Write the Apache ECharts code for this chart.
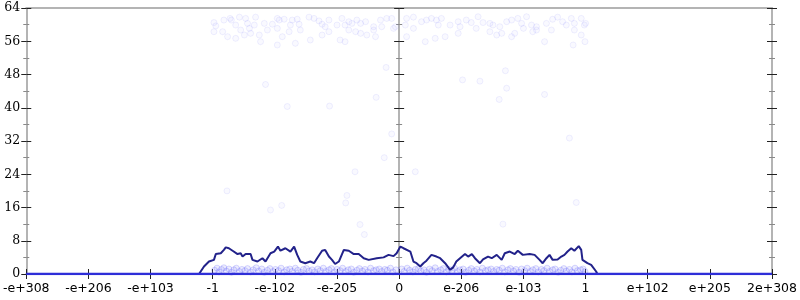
<!DOCTYPE html>
<html><head><meta charset="utf-8">
<script src="https://cdn.jsdelivr.net/npm/echarts@6/dist/echarts.min.js"></script>
<style>html,body{margin:0;padding:0;background:#fff}#c{width:800px;height:300px}</style>
</head><body><div id="c"></div>
<script>
var xLabels = ['-e+308','-e+206','-e+103','-1','-e-102','-e-205','0','e-206','e-103','1','e+102','e+205','2e+308'];
var yTicks = [0, 64, 8];

var topBand = [
[-2.98,60.5],[-2.95,59.7],[-2.82,61.1],[-2.72,61.5],[-2.70,61.1],[-2.63,59.9],[-2.57,61.8],[-2.47,61.5],[-2.44,60.3],[-2.33,59.9],
[-2.31,61.8],[-2.17,60.3],[-2.04,60.1],[-1.96,61.5],[-1.93,61.1],[-1.85,61.3],[-1.75,59.9],[-1.72,61.1],[-1.64,61.3],[-1.61,60.1],
[-1.45,61.8],[-1.37,61.5],[-1.29,60.9],[-1.24,60.1],[-1.19,59.5],[-1.13,61.1],[-1.00,59.9],[-0.92,61.5],[-0.87,59.9],[-0.81,60.7],
[-0.76,60.3],[-0.68,61.1],[-0.62,60.3],[-0.54,60.7],[-0.41,59.5],[-0.30,61.1],[-0.20,61.5],[-0.12,61.5],[-0.06,59.5],
[-2.98,58.3],[-2.84,58.3],[-2.76,57.1],[-2.63,56.7],[-2.55,58.7],[-2.49,57.5],[-2.39,57.9],[-2.41,59.1],[-2.25,57.5],[-2.23,55.9],
[-2.12,58.7],[-1.96,59.1],[-1.88,57.1],[-1.77,58.3],[-1.67,55.5],[-1.59,58.7],[-1.43,56.3],[-1.24,57.5],[-1.13,58.3],[-0.95,56.3],
[-0.87,55.9],[-0.81,58.7],[-0.70,58.3],[-0.62,57.9],[-0.52,57.5],[-0.41,58.7],[-0.38,57.1],[-0.28,59.5],[-0.09,59.1],[-1.96,55.1],
[0.10,59.9],[0.12,61.5],[0.23,61.8],[0.36,60.7],[0.44,61.1],[0.52,61.5],[0.60,61.1],[0.68,61.5],[0.63,59.9],[0.82,59.9],
[0.95,60.7],[0.98,59.5],[1.08,61.1],[1.16,60.5],[1.27,61.9],[1.35,60.5],[1.46,60.3],[1.51,59.9],[1.62,59.5],[1.73,60.7],
[1.81,61.1],[1.91,61.5],[1.97,60.3],[2.05,61.9],[2.13,59.9],[2.21,59.5],[2.37,60.3],[2.47,61.3],[2.55,61.8],[2.63,60.7],
[2.69,59.9],[2.77,61.5],[2.82,60.3],[2.93,61.5],[2.98,59.9],[3.00,60.3],
[0.12,57.1],[0.23,59.1],[0.42,55.9],[0.58,56.7],[0.74,57.1],[0.95,57.9],[1.24,59.1],[1.46,58.3],[1.57,57.5],[1.65,57.9],
[1.81,57.1],[1.86,57.9],[2.00,59.1],[2.15,58.3],[2.21,58.7],[2.34,55.9],[2.45,58.7],[2.82,58.7],[2.93,57.5],[2.80,55.1],[2.99,55.9]
];
var midSparse = [
[-0.21,49.7],[-2.15,45.6],[-1.80,40.3],[-1.12,40.4],[-0.37,42.5],[-0.12,33.7],[-0.24,28.0],[-0.71,24.6],[-2.77,20.0],[-0.84,18.9],
[-0.86,17.1],[-1.89,16.5],[-2.07,15.4],[-0.63,11.9],[-0.56,9.5],[1.71,48.9],[1.02,46.7],[1.30,46.4],[1.73,44.7],[1.61,42.0],
[2.34,43.2],[0.26,24.6],[2.74,32.7],[2.85,17.2],[1.67,12.0]
];
var bottomBand = [
[-2.97,0.9],[-2.93,1.4],[-2.90,0.5],[-2.86,1.1],[-2.82,1.5],[-2.78,0.7],[-2.74,1.2],[-2.70,0.4],[-2.66,1.0],[-2.62,1.4],
[-2.57,0.6],[-2.53,1.1],[-2.48,0.8],[-2.44,1.3],[-2.39,0.5],[-2.35,1.0],[-2.30,1.5],[-2.26,0.7],[-2.21,1.2],[-2.17,0.4],
[-2.12,0.9],[-2.08,1.3],[-2.03,0.6],[-1.99,1.1],[-1.94,0.8],[-1.90,1.4],[-1.85,0.5],[-1.81,1.0],[-1.76,1.2],[-1.72,0.6],
[-1.67,1.4],[-1.63,0.9],[-1.58,0.4],[-1.54,1.1],[-1.49,1.3],[-1.45,0.7],[-1.40,1.0],[-1.36,0.5],[-1.31,1.2],[-1.27,0.8],
[-1.22,1.4],[-1.18,0.6],[-1.13,1.0],[-1.09,1.3],[-1.04,0.5],[-1.00,1.1],[-0.95,0.8],[-0.91,1.4],[-0.86,0.6],[-0.82,1.0],
[-0.77,1.2],[-0.73,0.4],[-0.68,0.9],[-0.64,1.3],[-0.59,0.7],[-0.55,1.1],[-0.50,0.5],[-0.46,1.4],[-0.41,0.8],[-0.37,1.0],
[-0.32,1.2],[-0.28,0.6],[-0.23,1.1],[-0.19,0.9],[-0.14,1.4],[-0.10,0.5],[-0.05,1.0],
[0.04,1.2],[0.08,0.6],[0.13,1.4],[0.17,0.9],[0.22,0.5],[0.26,1.1],[0.31,1.3],[0.35,0.7],[0.40,1.0],[0.44,0.4],
[0.49,1.2],[0.53,0.8],[0.58,1.5],[0.62,0.6],[0.67,1.0],[0.71,1.3],[0.76,0.5],[0.80,1.1],[0.85,0.8],[0.89,1.4],
[0.94,0.6],[0.98,1.0],[1.03,1.2],[1.07,0.4],[1.12,0.9],[1.16,1.3],[1.21,0.7],[1.25,1.1],[1.30,0.5],[1.34,1.4],
[1.39,0.8],[1.43,1.0],[1.48,1.2],[1.52,0.6],[1.57,1.1],[1.61,0.9],[1.66,1.4],[1.70,0.5],[1.75,1.0],[1.79,1.3],
[1.84,0.7],[1.88,1.1],[1.93,0.4],[1.97,1.2],[2.02,0.8],[2.06,1.4],[2.11,0.6],[2.15,1.0],[2.20,1.3],[2.24,0.5],
[2.29,1.1],[2.33,0.8],[2.38,1.4],[2.42,0.6],[2.47,1.0],[2.51,1.2],[2.56,0.4],[2.60,0.9],[2.65,1.3],[2.69,0.7],
[2.74,1.1],[2.78,0.5],[2.83,1.4],[2.87,0.8],[2.92,1.0],[2.96,1.2],[2.99,0.6]
];
var countLine = [
[-6,0],[-3.22,0],[-3.19,0.2],[-3.14,1.8],[-3.06,3.0],[-2.98,3.4],[-2.95,4.8],[-2.87,5.0],[-2.82,5.8],[-2.79,6.4],[-2.74,6.2],
[-2.68,5.6],[-2.60,4.8],[-2.55,5.0],[-2.52,4.2],[-2.47,4.8],[-2.39,4.8],[-2.36,3.4],[-2.28,3.0],[-2.20,3.8],[-2.15,3.0],
[-2.07,5.0],[-2.01,5.4],[-1.95,6.6],[-1.91,5.6],[-1.83,6.2],[-1.75,5.4],[-1.69,6.6],[-1.64,4.6],[-1.59,3.0],[-1.51,2.6],
[-1.43,3.0],[-1.37,2.6],[-1.32,3.8],[-1.24,5.6],[-1.19,5.8],[-1.13,4.2],[-1.08,3.4],[-1.03,2.4],[-0.97,3.0],[-0.89,5.8],
[-0.81,5.6],[-0.73,4.8],[-0.65,4.8],[-0.57,3.8],[-0.49,3.4],[-0.36,3.8],[-0.25,4.0],[-0.17,4.6],[-0.09,4.3],[-0.04,5.0],
[0.02,6.6],[0.07,6.2],[0.10,6.2],[0.18,5.4],[0.23,3.0],[0.28,2.6],[0.34,1.8],[0.39,2.6],[0.44,3.2],[0.52,4.6],
[0.60,4.2],[0.66,3.8],[0.74,2.6],[0.82,1.0],[0.87,1.6],[0.92,3.0],[0.98,3.8],[1.06,4.8],[1.11,4.2],[1.17,4.8],
[1.22,3.8],[1.30,2.6],[1.35,3.5],[1.43,4.2],[1.49,3.8],[1.57,4.6],[1.65,3.4],[1.70,5.0],[1.78,5.4],[1.86,4.8],
[1.91,5.6],[1.99,4.6],[2.10,4.8],[2.18,4.6],[2.26,3.4],[2.31,2.6],[2.37,3.8],[2.42,4.6],[2.47,3.4],[2.55,3.5],
[2.61,4.2],[2.66,4.6],[2.71,5.4],[2.77,6.2],[2.82,5.6],[2.89,6.7],[2.93,5.8],[2.95,3.4],[3.03,2.6],[3.09,2.2],
[3.17,0.6],[3.19,0],[6,0]
];
var baseline = [[-6,0],[6,0]];

var axisGray = '#b4b4b4';
var tickDark = '#222';
var tickMinor = '#888';
function yAx(pos, onZero, inside, withLine, withLabel) {
  return {
    type: 'value', min: yTicks[0], max: yTicks[1], interval: yTicks[2], position: pos,
    axisLine: { show: withLine, onZero: onZero, onZeroAxisIndex: 0, lineStyle: { color: axisGray, width: 2 } },
    axisTick: { show: true, inside: inside, length: 5, lineStyle: { color: tickDark, width: 1 } },
    minorTick: { show: true, splitNumber: 2, length: 3, lineStyle: { color: tickMinor, width: 1 } },
    axisLabel: { show: withLabel, margin: 6, color: '#000', fontFamily: 'DejaVu Serif', fontSize: 12.5 },
    splitLine: { show: false }, minorSplitLine: { show: false }
  };
}
function xAx(pos, inside, withLine, withTicks, withLabel) {
  return {
    type: 'value', min: -6, max: 6, interval: 1, position: pos,
    axisLine: { show: withLine, onZero: false, lineStyle: { color: axisGray, width: 2 } },
    axisTick: { show: withTicks, inside: inside, length: 5, lineStyle: { color: tickDark, width: 1 } },
    axisLabel: { show: withLabel, margin: 8, color: '#000', fontFamily: 'DejaVu Sans', fontSize: 12.5,
      showMinLabel: true, showMaxLabel: true,
      formatter: function (v) { return xLabels[Math.round(v) + 6]; } },
    splitLine: { show: false }
  };
}
var chart = echarts.init(document.getElementById('c'), null, { renderer: 'canvas' });
chart.setOption({
  animation: false,
  grid: { left: 24, right: 27, top: 8, bottom: 26, containLabel: false },
  xAxis: [ xAx('bottom', false, true, true, true), xAx('bottom', true, false, true, false), xAx('top', false, true, false, false) ],
  yAxis: [
    yAx('left', false, false, true, true), yAx('left', false, true, false, false),
    yAx('right', false, false, true, false), yAx('right', false, true, false, false),
    yAx('left', true, false, true, false), yAx('left', true, true, true, false)
  ],
  series: [
    { type: 'scatter', data: topBand.concat(midSparse), symbolSize: 6, z: 1,
      itemStyle: { color: 'rgba(110,110,250,0.05)', borderColor: 'rgba(110,110,250,0.13)', borderWidth: 1 } },
    { type: 'scatter', data: bottomBand, symbolSize: 6, z: 1,
      itemStyle: { color: 'rgba(100,100,250,0.14)', borderColor: 'rgba(100,100,250,0.3)', borderWidth: 1 } },
    { type: 'line', data: countLine, symbol: 'none', z: 3, lineStyle: { color: '#22228a', width: 2 } },
    { type: 'line', data: baseline, symbol: 'none', z: 4, lineStyle: { color: '#2e2ed8', width: 2.5 } }
  ]
});
</script></body></html>
